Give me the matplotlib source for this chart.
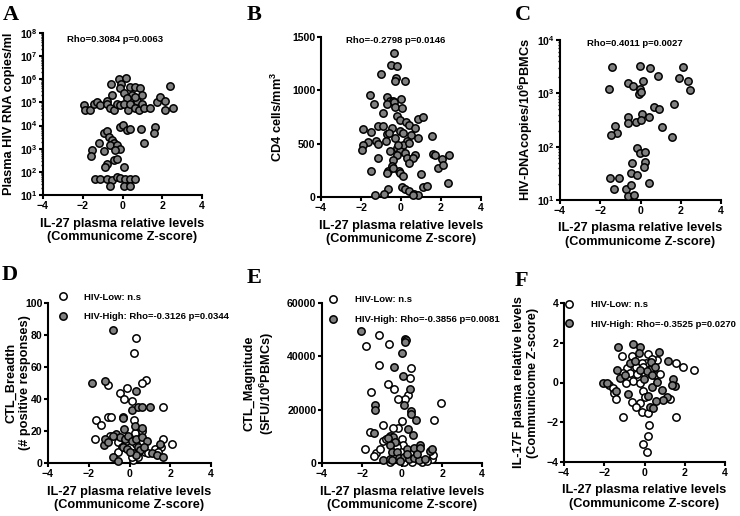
import matplotlib
matplotlib.use("Agg")
import matplotlib.pyplot as plt
from matplotlib.lines import Line2D
from matplotlib.ticker import LogLocator, NullFormatter, FixedLocator

plt.rcParams["font.family"] = ["Liberation Sans", "DejaVu Sans"]
plt.rcParams["font.weight"] = "bold"
plt.rcParams["mathtext.fontset"] = "custom"
plt.rcParams["mathtext.rm"] = "Liberation Sans:bold"
plt.rcParams["mathtext.bf"] = "Liberation Sans:bold"
plt.rcParams["mathtext.it"] = "Liberation Sans:bold:italic"

# ---- data ----
# A: plasma viral load vs IL-27
a_x = [-0.19, 0.19, -0.58, -0.08, -0.14, 0.39, 0.64, 0.90, 2.41, 0.06, 0.48, 0.98, -0.53, 0.73, 0.22, 0.64, -0.78,
       -1.96, -1.87, -1.62, -1.45, -1.29, -1.12, -0.78, -0.65, -0.45, -0.28, -0.11, 0.06, 0.26, 0.36, 0.64, 0.81,
       0.98, 1.10, 1.37, 1.73, 1.90, 2.15, 2.12, 2.54,
       -0.14, 0.02, 0.22, 0.39, 0.93, 1.65, 1.57, 1.10, -0.95, -0.78, -0.70, -0.53, -0.45, -0.61, -0.28, -0.11,
       -0.36, -1.20, -1.54, -1.59, -0.92, -0.45, -0.28, -0.78, -0.87, 0.06,
       -1.37, -1.12, -0.78, -0.53, -0.28, -0.11, 0.14, 0.36, 0.64, -0.65, 0.06, 0.39]
a_vl = [1.0e6, 1.1e6, 6.5e5, 6.0e5, 4.0e5, 4.7e5, 4.7e5, 4.0e5, 5.1e5, 2.6e5, 2.0e5, 2.2e5, 2.2e5, 1.2e5, 1.5e5,
        1.7e5, 1.2e5,
        7.6e4, 4.9e4, 4.6e4, 8.9e4, 1.05e5, 7.6e4, 8.9e4, 5.5e4, 4.9e4, 8.9e4, 7.6e4, 8.9e4, 4.9e4, 8.9e4, 5.5e4,
        4.9e4, 8.9e4, 5.5e4, 5.5e4, 1.05e5, 1.7e5, 1.2e5, 4.6e4, 6.0e4,
        8900, 10500, 6300, 7400, 6800, 8900, 4600, 1700, 4600, 5800, 3200, 2300, 1700, 1450, 1450, 1020, 870, 1800,
        870, 480, 800, 320, 350, 210, 166, 155,
        49, 49, 49, 45, 62, 52, 48, 49, 49, 25, 25, 25]

# B: CD4 count vs IL-27
b_x = [-0.33, -0.52, -0.18, -1.0, -0.25, -0.30, 0.20, -1.55, -1.35, -0.68, -0.55, -0.38, 0.0, -0.72, -0.33, -0.30,
       0.03, -0.88, -0.22, -0.05, 0.25, 0.42, 0.70, 0.87, 1.08, -1.13, -0.88, -0.47, -1.88, -1.52, -0.05, 0.12, 0.48,
       -0.72, -0.58, -1.25, -0.75, -1.67, -1.17, -1.92, -1.97, 0.28, 0.12, -0.22, -0.55, -0.05, 0.20, 0.70, 0.87,
       0.42, -0.22, 0.28, 0.62, 0.42, -1.13, -0.42, 1.53, 1.62, 1.70, 2.03, 2.42, 1.87, 2.08, -1.52, -0.63, -0.72,
       -0.08, -0.05, -0.47, -0.38, 0.08, 0.98, 2.33, 0.03, 0.20, 0.42, 0.67, 0.87, 0.62, 1.12, 1.32, -1.30, -0.63,
       -0.83, -0.30, -0.13]
b_cd4 = [1350, 1240, 1231, 1153, 1116, 1090, 1084, 953, 875, 934, 903, 897, 919, 872, 890, 841, 834, 788, 756, 725,
         703, 678, 647, 734, 747, 669, 669, 647, 641, 609, 622, 600, 584, 591, 600, 522, 522, 512, 497, 491, 444, 522,
         491, 459, 434, 428, 412, 397, 553, 506, 397, 366, 366, 319, 366, 350, 569, 403, 397, 359, 391, 272, 297, 247,
         241, 225, 247, 225, 288, 272, 194, 216, 131, 91, 78, 53, 28, 16, 16, 91, 106, 16, 75, 31, 553, 491]

# C: HIV DNA vs IL-27
c_x = [-1.43, -0.02, 0.47, 0.89, 2.13, 1.91, 2.34, 2.46, -1.57, -0.64, -0.36, 0.11, -0.02, -0.06, 0.0, 0.69, 0.93,
       1.66, -0.60, -0.60, -0.22, 0.06, 0.03, 0.44, -1.27, -1.18, -1.46, 1.05, 1.58, -0.19, -0.02, 0.22, -0.44, 0.22,
       0.17, -0.47, -0.19, -1.52, -1.07, 0.44, -1.30, -0.74, -0.47, -0.64, -0.31]
c_dna = [3160, 3240, 3020, 2140, 3160, 1950, 1740, 1150, 1200, 1580, 1350, 1700, 1200, 955, 1070, 560, 510, 620,
         360, 280, 295, 410, 320, 360, 240, 178, 162, 230, 155, 93, 76, 81, 49, 51, 41, 32, 29, 26, 26, 21, 16, 16,
         19, 12, 12.3]

# D: CTL breadth
d_hi_x = [-0.80, -1.84, -1.21, 0.30, 0.11, 0.43, 0.62, 1.0, -0.31, -0.26, 0.26, 0.62, -1.25, -1.21, -0.64, -0.48,
          -0.23, -0.07, 0.10, 0.34, 0.62, 0.84, -0.80, -0.56, -0.31, -0.10, 0.43, 0.51, 0.72, 1.08, 1.33, 1.49, 1.66,
          0.30, 0.02, -1.05, -0.80]
d_hi_y = [83, 50, 51, 45, 33, 35, 35, 35, 28, 21, 23, 22, 11, 15, 18, 16, 15, 17, 14, 15, 16, 14, 4, 1, 10, 9, 10, 8,
          10, 6, 5, 12, 4, 5, 7, 13, 17]
d_lo_x = [0.31, 0.23, 0.79, 0.62, -1.05, -0.48, -0.13, -0.28, 0.10, 1.66, -1.62, -1.41, -1.05, -0.89, -0.31, 0.23,
          -1.70, -0.56, 0.26, 0.59, -0.39, 0.75, 1.25, 1.57, 2.07, -0.56, 0.18, 0.18, 0.92, 0.43, 1.41, 1.66, -0.15,
          -0.97, 0.34, 0.10]
d_lo_y = [78, 69, 52, 50, 49, 44, 47, 40, 39, 35, 27, 24, 29, 29, 29, 27, 15, 13, 19, 20, 10, 7, 9, 10, 12, 7, 2, 6,
          6, 4, 7, 15, 14, 17, 12, 4]

# E: CTL magnitude
e_hi_x = [-2.03, 0.17, 0.20, 0.17, 0.0, -0.38, 0.05, 0.42, -1.33, -1.37, 0.47, 0.45, 0.72, 0.08, -1.42, -0.62, -0.45,
          0.28, 0.55, -0.33, -0.58, -0.5, -0.25, 0.25, 0.58, 0.88, 0.92, 1.38, 1.5, -0.95, -0.58, -0.17, 0.08, 0.33,
          0.58, 0.83, 1.17, 0.25, 0.75, -0.5, -0.08, -0.7]
e_hi_y = [49400, 46600, 46100, 45400, 41400, 35900, 32600, 27900, 21600, 19750, 19400, 18250, 16000, 21900, 11400,
          10100, 9750, 12600, 10400, 7900, 6900, 4100, 4100, 5100, 5600, 6900, 5600, 4400, 5400, 1000, 1600, 1900,
          2250, 1400, 1900, 1250, 1600, 3500, 3500, 1000, 600, 9400]
e_lo_x = [-1.17, -1.78, -0.63, -1.17, 0.47, -0.7, -0.42, 0.42, 0.28, 0.17, -0.22, 1.97, -1.53, 1.58, 0.0, -0.95,
          -0.18, -0.45, -1.58, -1.28, -1.42, -1.87, -0.95, -0.78, 0.0, 0.05, -0.25, 1.5, 1.55, -0.58, -0.33, 0.5, 0.08,
          1.0, 1.25, -1.08, 0.42]
e_lo_y = [47900, 43900, 44750, 36600, 35600, 29750, 27600, 32000, 25400, 24100, 24100, 22600, 26600, 16000, 15600,
          14400, 13100, 13100, 11600, 3900, 2600, 5400, 8100, 9100, 9100, 6600, 6000, 1600, 2900, 400, 3100, 400, 400,
          400, 900, 5100, 4100]

# F: IL-17F vs IL-27
f_hi_x = [-1.30, -0.59, -0.22, -0.26, 0.74, 1.18, -0.72, -1.35, -0.47, 0.31, 0.52, -2.04, -1.88, -1.42, -0.80, 0.35,
          0.60, 0.85, 1.13, 0.93, 0.57, 0.28, 0.44, 0.19, 1.40, 1.52, 1.35, 0.11, 0.35, -0.02, -1.22, -0.97, -0.22]
f_hi_y = [1.79, 1.96, 1.79, 1.49, 1.54, 1.09, 0.99, 0.63, 1.09, 1.04, 0.79, 0.0, -0.04, -0.41, -0.58, -0.21, 0.04,
          -0.38, -0.74, -0.88, -0.93, -1.21, -1.29, -0.68, 0.16, -0.18, -0.13, 0.59, 0.38, 0.16, 0.21, 0.38, 0.63]
f_lo_x = [-1.13, -0.64, 0.19, 0.64, 1.57, 1.93, 2.48, 0.07, -0.14, 0.36, -0.06, -0.42, -0.89, -1.05, -0.72, -0.39,
          0.02, 0.27, 0.52, 0.78, -0.55, -0.22, -0.92, -1.75, -1.55, -1.52, -1.42, -0.64, -0.22, -0.06, 0.02, -0.42,
          -0.14, 0.19, 1.27, 1.55, -1.05, 0.24, 0.19, -0.09, 0.11]
f_lo_y = [1.33, 1.33, 1.43, 1.13, 0.96, 0.79, 0.63, 0.99, 0.96, 1.16, 0.79, 0.79, 0.71, 0.49, 0.46, 0.43, 0.43, 0.63,
          0.38, 0.43, 0.09, -0.01, -0.04, -0.14, -0.29, -0.54, -0.84, -0.96, -1.04, -0.41, -0.71, -1.24, -1.46, -1.54,
          -0.84, -1.74, -1.76, -2.15, -2.70, -3.10, -3.51]

XLABEL = "IL-27 plasma relative levels\n(Communicome Z-score)"
GREY = "#808080"
MS = 28
FS_TICK = 7.6
FS_LAB = 9.2
FS_NOTE = 6.8


def style(ax, ylab, ylab_x):
    for s in ("top", "right"):
        ax.spines[s].set_visible(False)
    for s in ("left", "bottom"):
        ax.spines[s].set_linewidth(1.5)
    ax.tick_params(which="major", direction="out", length=2.8, width=1.5, labelsize=FS_TICK, pad=1.2)
    ax.tick_params(which="minor", direction="out", length=1.6, width=1.0)
    ax.set_xlim(-4, 4)
    ax.set_xticks([-4, -2, 0, 2, 4])
    ax.set_xlabel(XLABEL, fontsize=FS_LAB, fontweight="bold", labelpad=5)
    ax.set_ylabel(ylab, fontsize=FS_LAB, fontweight="bold")
    ax.yaxis.set_label_coords(ylab_x, 0.5)
    for lab in ax.get_xticklabels() + ax.get_yticklabels():
        lab.set_fontweight("bold")


def log_axis(ax, lo, hi):
    ax.set_yscale("log")
    ax.set_ylim(10 ** lo, 10 ** hi)
    ax.yaxis.set_major_locator(FixedLocator([10 ** k for k in range(lo, hi + 1)]))
    ax.set_yticklabels([f"$10^{{{k}}}$" for k in range(lo, hi + 1)])
    ax.yaxis.set_minor_locator(LogLocator(base=10, subs=range(2, 10), numticks=20))
    ax.yaxis.set_minor_formatter(NullFormatter())


def dots(ax, x, y, face):
    ax.scatter(x, y, s=MS, facecolor=face, edgecolor="black", linewidth=1.1, clip_on=False, zorder=3)


def legend(ax, rho, anchor):
    h = [Line2D([], [], ls="", marker="o", ms=5.3, mfc="white", mec="black", mew=1.1),
         Line2D([], [], ls="", marker="o", ms=5.3, mfc=GREY, mec="black", mew=1.1)]
    ax.legend(h, ["HIV-Low: n.s", "HIV-High: " + rho], loc="upper left", bbox_to_anchor=anchor,
              frameon=False, handlelength=1.0, handletextpad=1.8, labelspacing=1.15,
              borderpad=0, borderaxespad=0, prop={"weight": "bold", "size": FS_NOTE})


def note(ax, txt, x, y):
    ax.text(x, y, txt, transform=ax.transAxes, ha="center", va="center", fontsize=FS_NOTE, fontweight="bold")


W, H = 740, 516
fig = plt.figure(figsize=(W / 100, H / 100), dpi=100)


def add_axes(l, t, r, b):
    return fig.add_axes([l / W, 1 - b / H, (r - l) / W, (b - t) / H])


axA = add_axes(43, 33, 202, 195)
axB = add_axes(321, 37, 481, 197)
axC = add_axes(560, 40, 721, 200)
axD = add_axes(48, 303, 211, 463)
axE = add_axes(322, 303, 482, 463)
axF = add_axes(564, 303, 725, 462)

# A
dots(axA, a_x, a_vl, GREY)
log_axis(axA, 1, 8)
note(axA, "Rho=0.3084 p=0.0063", 0.453, 0.957)
style(axA, "Plasma HIV RNA copies/ml", -0.175)

# B
dots(axB, b_x, b_cd4, GREY)
axB.set_ylim(0, 1500)
axB.set_yticks([0, 500, 1000, 1500])
note(axB, "Rho=-0.2798 p=0.0146", 0.467, 0.979)
style(axB, "CD4 cells/mm$^3$", -0.222)

# C
dots(axC, c_x, c_dna, GREY)
log_axis(axC, 1, 4)
note(axC, "Rho=0.4011 p=0.0027", 0.464, 0.979)
style(axC, "HIV-DNAcopies/10$^6$PBMCs", -0.158)

# D
dots(axD, d_lo_x, d_lo_y, "white")
dots(axD, d_hi_x, d_hi_y, GREY)
axD.set_ylim(0, 100)
axD.set_yticks(range(0, 101, 20))
legend(axD, "Rho=-0.3126 p=0.0344", (0.061, 1.065))
style(axD, "CTL_Breadth\n(# positive responses)", -0.105)

# E
dots(axE, e_lo_x, e_lo_y, "white")
dots(axE, e_hi_x, e_hi_y, GREY)
axE.set_ylim(0, 60000)
axE.set_yticks([0, 20000, 40000, 60000])
legend(axE, "Rho=-0.3856 p=0.0081", (0.04, 1.05))
style(axE, "CTL_Magnitude\n(SFU/10$^6$PBMCs)", -0.285)

# F
dots(axF, f_lo_x, f_lo_y, "white")
dots(axF, f_hi_x, f_hi_y, GREY)
axF.set_ylim(-4, 4)
axF.set_yticks([-4, -2, 0, 2, 4])
legend(axF, "Rho=-0.3525 p=0.0270", (0.001, 1.02))
style(axF, "IL-17F plasma relative levels\n(Communicome Z-score)", -0.158)

# panel letters
for letter, px, py in [("A", 3, 20), ("B", 247, 20), ("C", 515, 20), ("D", 2, 280), ("E", 247, 283), ("F", 515, 286)]:
    fig.text(px / W, 1 - py / H, letter, ha="left", va="baseline", fontsize=16, fontweight="bold",
             family=["Liberation Serif", "DejaVu Serif"])

fig.savefig("out.png", dpi=100)
